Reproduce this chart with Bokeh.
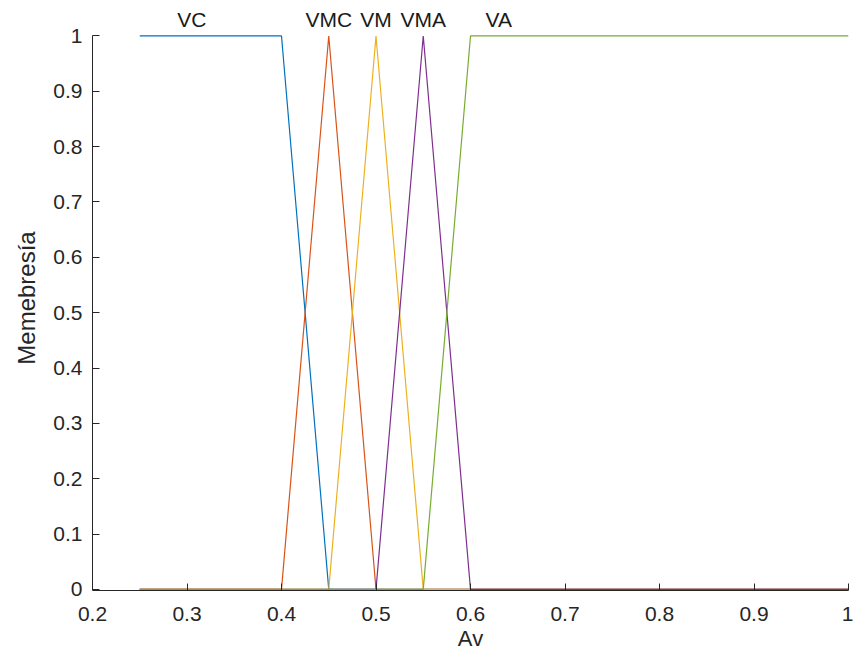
from bokeh.plotting import figure
from bokeh.models import Label, Range1d, FixedTicker
from bokeh.embed import file_html
from bokeh.resources import INLINE

# Membership function breakpoints (Av vs membership)
vc_x = [0.25, 0.40, 0.45, 1.00]
vc_y = [1, 1, 0, 0]
vmc_x = [0.25, 0.40, 0.45, 0.50, 1.00]
vmc_y = [0, 0, 1, 0, 0]
vm_x = [0.25, 0.45, 0.50, 0.55, 1.00]
vm_y = [0, 0, 1, 0, 0]
vma_x = [0.25, 0.50, 0.55, 0.60, 1.00]
vma_y = [0, 0, 1, 0, 0]
va_x = [0.25, 0.55, 0.60, 1.00]
va_y = [0, 0, 1, 1]

names = ["VC", "VMC", "VM", "VMA", "VA"]
label_x = [0.305, 0.45, 0.50, 0.55, 0.63]
label_y = [1.03, 1.03, 1.03, 1.03, 1.03]
colors = ["#0072BD", "#D95319", "#EDB120", "#7E2F8E", "#77AC30"]

x_ticks = [0.2, 0.3, 0.4, 0.5, 0.6, 0.7, 0.8, 0.9, 1.0]
y_ticks = [0, 0.1, 0.2, 0.3, 0.4, 0.5, 0.6, 0.7, 0.8, 0.9, 1.0]

FONT = "Liberation Sans"
TXT = "#262626"

p = figure(width=853, height=653, output_backend="svg", toolbar_location=None,
           x_range=Range1d(0.2, 1.0), y_range=Range1d(-0.002, 1.055),
           min_border_left=92, min_border_right=5, min_border_top=5, min_border_bottom=0)
p.outline_line_color = None
p.grid.grid_line_color = None
p.background_fill_color = "white"
p.border_fill_color = "white"

series = [(vc_x, vc_y), (vmc_x, vmc_y), (vm_x, vm_y), (vma_x, vma_y), (va_x, va_y)]
for (xs, ys), c in zip(series, colors):
    p.line(xs, ys, line_color=c, line_width=1.2)

for n, lx, ly in zip(names, label_x, label_y):
    p.add_layout(Label(x=lx, y=ly, text=n, text_align="center", text_baseline="middle",
                       text_font=FONT, text_font_size="21px", text_color="#1a1a1a"))

for ax in (p.xaxis[0], p.yaxis[0]):
    ax.axis_line_color = TXT
    ax.major_tick_line_color = TXT
    ax.major_tick_in = 7
    ax.major_tick_out = 0
    ax.minor_tick_line_color = None
    ax.major_label_text_font = FONT
    ax.major_label_text_font_size = "21px"
    ax.major_label_text_color = TXT
    ax.axis_label_text_font = FONT
    ax.axis_label_text_font_style = "normal"
    ax.axis_label_text_color = TXT

p.xaxis.bounds = (0.2, 1.0)
p.yaxis.bounds = (0, 1)
p.xaxis.ticker = FixedTicker(ticks=x_ticks)
p.yaxis.ticker = FixedTicker(ticks=y_ticks)
p.xaxis.major_label_overrides = {0.2: "0.2", 0.3: "0.3", 0.4: "0.4", 0.5: "0.5", 0.6: "0.6",
                                 0.7: "0.7", 0.8: "0.8", 0.9: "0.9", 1.0: "1"}
p.yaxis.major_label_overrides = {0: "0", 1.0: "1"}
p.xaxis.axis_label = "Av"
p.yaxis.axis_label = "Memebresía"
p.xaxis.axis_label_text_font_size = "22px"
p.yaxis.axis_label_text_font_size = "24px"
p.xaxis.major_label_standoff = 16
p.yaxis.major_label_standoff = 10
p.xaxis.axis_label_standoff = 2
p.yaxis.axis_label_standoff = 10

open("out.html", "w").write(file_html(p, INLINE))
